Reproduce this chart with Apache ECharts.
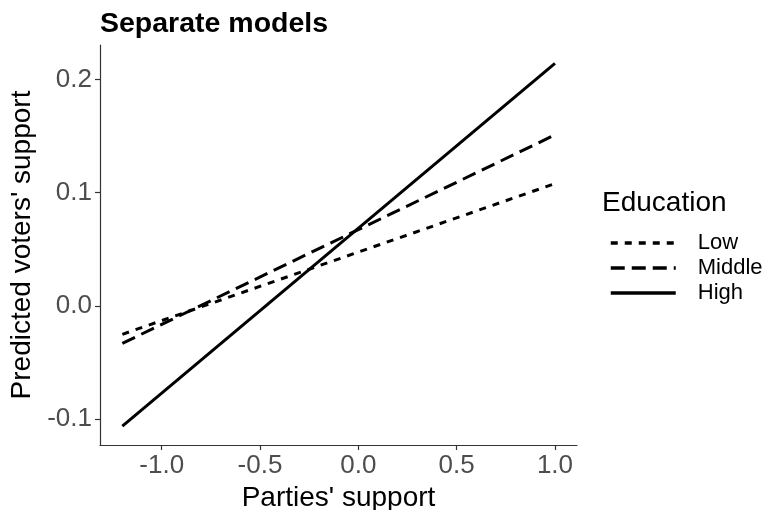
<!DOCTYPE html>
<html>
<head>
<meta charset="utf-8">
<script src="https://cdn.jsdelivr.net/npm/echarts@6/dist/echarts.min.js"></script>
<style>html,body{margin:0;padding:0;background:#fff;}#c{width:766px;height:510px;}</style>
</head>
<body>
<div id="c"></div>
<script>
var xEnds = [-1.2, 1.0];
var lowValues = [-0.025, 0.108];
var middleValues = [-0.033, 0.151];
var highValues = [-0.106, 0.214];
var seriesNames = ['Low', 'Middle', 'High'];
var xTicks = [-1.0, -0.5, 0.0, 0.5, 1.0];
var yTicks = [-0.1, 0.0, 0.1, 0.2];

var FONT = 'Liberation Sans, Arial, sans-serif';
var dashes = { Low: [7, 7], Middle: [14, 7], High: 'solid' };
function pairs(xs, ys) { return xs.map(function (x, i) { return [x, ys[i]]; }); }

var chart = echarts.init(document.getElementById('c'), null, { renderer: 'canvas' });
chart.setOption({
  animation: false,
  backgroundColor: '#ffffff',
  title: [
    { text: 'Separate models', left: 100, top: 10, padding: 0,
      textStyle: { fontFamily: FONT, fontSize: 28.5, fontWeight: 'bold', color: '#000', lineHeight: 28 } },
    { text: 'Education', left: 602, top: 189, padding: 0,
      textStyle: { fontFamily: FONT, fontSize: 28, fontWeight: 'normal', color: '#000', lineHeight: 28 } }
  ],
  grid: { left: 100, right: 189, top: 45, bottom: 65, containLabel: false, outerBoundsMode: 'none' },
  legend: {
    orient: 'vertical', left: 609, top: 232, padding: 0,
    itemWidth: 65, itemHeight: 20, itemGap: 3,
    data: seriesNames.map(function (n) {
      return { name: n, itemStyle: { opacity: 0 }, lineStyle: { color: '#000', width: 3.5, type: dashes[n], cap: 'butt' } };
    }),
    textStyle: { fontFamily: FONT, fontSize: 22, lineHeight: 20, color: '#000', padding: [0, 0, 0, 17] }
  },
  xAxis: {
    type: 'value', min: -1.3137, max: 1.112,
    name: "Parties' support", nameLocation: 'middle', nameGap: 36,
    nameTextStyle: { fontFamily: FONT, fontSize: 28, color: '#000' },
    axisLine: { show: true, onZero: false, lineStyle: { color: '#333', width: 1.2 } },
    axisTick: { show: true, length: 5, customValues: xTicks, lineStyle: { color: '#333', width: 1.2 } },
    axisLabel: { customValues: xTicks, margin: 8, fontFamily: FONT, fontSize: 26, color: '#4d4d4d',
      formatter: function (v) { return Number(v).toFixed(1); } },
    splitLine: { show: false }
  },
  yAxis: {
    type: 'value', min: -0.1227, max: 0.2303,
    name: "Predicted voters' support", nameLocation: 'middle', nameGap: 62,
    nameTextStyle: { fontFamily: FONT, fontSize: 28, color: '#000' },
    axisLine: { show: true, onZero: false, lineStyle: { color: '#333', width: 1.2 } },
    axisTick: { show: true, length: 5, customValues: yTicks, lineStyle: { color: '#333', width: 1.2 } },
    axisLabel: { customValues: yTicks, margin: 8, fontFamily: FONT, fontSize: 26, color: '#4d4d4d',
      formatter: function (v) { return Number(v).toFixed(1); } },
    splitLine: { show: false }
  },
  series: [
    { name: 'Low', type: 'line', data: pairs(xEnds, lowValues), symbol: 'none', showSymbol: false,
      lineStyle: { color: '#000', width: 3, type: dashes.Low, cap: 'butt' }, itemStyle: { color: '#000' } },
    { name: 'Middle', type: 'line', data: pairs(xEnds, middleValues), symbol: 'none', showSymbol: false,
      lineStyle: { color: '#000', width: 3, type: dashes.Middle, cap: 'butt' }, itemStyle: { color: '#000' } },
    { name: 'High', type: 'line', data: pairs(xEnds, highValues), symbol: 'none', showSymbol: false,
      lineStyle: { color: '#000', width: 3, type: dashes.High, cap: 'butt' }, itemStyle: { color: '#000' } }
  ]
});
</script>
</body>
</html>
